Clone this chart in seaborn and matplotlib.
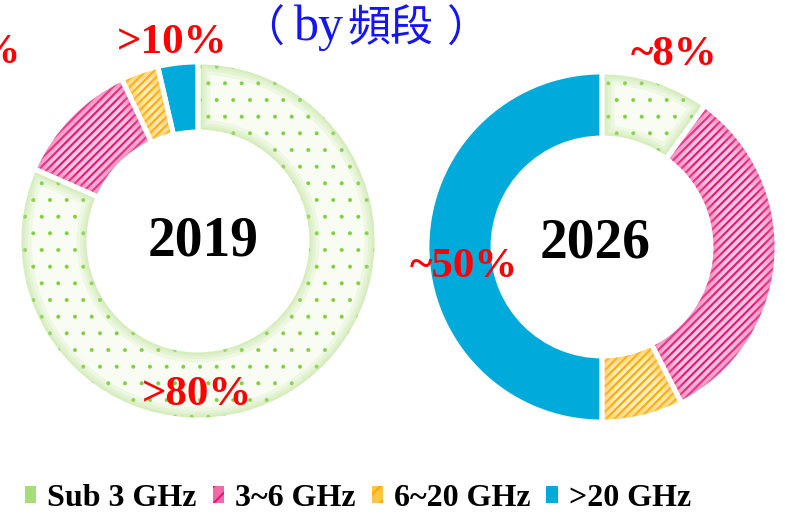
import matplotlib
matplotlib.use("Agg")
import matplotlib.pyplot as plt
from matplotlib.patches import Patch, PathPatch
import seaborn as sns

sns.set_theme(style="white")
plt.rcParams["hatch.linewidth"] = 1.5
plt.rcParams["text.color"] = "black"

# ---- data ----
bands = ["Sub 3 GHz", "3~6 GHz", "6~20 GHz", ">20 GHz"]
share_2019 = [81.6, 11.4, 3.4, 3.6]
share_2026 = [10.0, 32.5, 7.5, 50.0]
years = ["2019", "2026"]
title_parts = ["（", "by", "頻段", "）"]
labels_2019 = [">80%", ">10%", "~10%"]
labels_2026 = ["~8%", "~50%"]

face_colors = ["#F8FCF3", "#FAC6DE", "#FFEDBB", "#00AADB"]
hatch_colors = ["#7ED03A", "#E6157A", "#FFA800", "#00AADB"]
glow_colors = ["#B5E08A", "#F06AA8", "#FFC44A", "#00AADB"]
hatches = [".", "////", "////", None]

W, H = 785, 516
fig = plt.figure(figsize=(W / 100, H / 100), dpi=100)
ax = fig.add_axes([0, 0, 1, 1])


def donut(values, cx, cy, r, w):
    wedges, _ = ax.pie(values, startangle=90, counterclock=False,
                       center=(cx, cy), radius=r,
                       wedgeprops=dict(width=w, linewidth=0), frame=True)
    for wd, fc, hc, ht in zip(wedges, face_colors, hatch_colors, hatches):
        wd.set_facecolor(fc)
        wd.set_edgecolor(hc)
        if ht:
            wd.set_hatch(ht)
            if ht == "." and hasattr(wd, "set_hatch_linewidth"):
                wd.set_hatch_linewidth(0.4)
    # soft inner glow along the segment edges (clipped inside each wedge)
    for wd, c in zip(wedges, glow_colors):
        path = wd.get_path()
        for lw in (18, 13, 9, 6):
            g = PathPatch(path, transform=wd.get_transform(), facecolor="none",
                          edgecolor=c, linewidth=lw, alpha=0.16,
                          zorder=wd.get_zorder())
            ax.add_patch(g)
            g.set_clip_path(path, wd.get_transform())
    # white separators
    ax.pie(values, startangle=90, counterclock=False,
           center=(cx, cy), radius=r,
           wedgeprops=dict(width=w, linewidth=3.5, edgecolor="white",
                           facecolor="none"), frame=True)


donut(share_2019, 198, H - 241, 179, 70)
donut(share_2026, 602, H - 247, 175, 66)

ax.set_xlim(0, W)
ax.set_ylim(0, H)
ax.set_aspect("equal")
ax.axis("off")

serif = ["Liberation Serif", "DejaVu Serif"]
ax.text(203, H - 242, years[0], fontsize=40, fontweight="bold", color="black",
        family=serif, ha="center", va="center")
ax.text(595, H - 243, years[1], fontsize=40, fontweight="bold", color="black",
        family=serif, ha="center", va="center")

red = "#FF0000"
lab_kw = dict(fontsize=31, fontweight="bold", color=red, family=serif,
              va="baseline")
ax.text(197, H - 405, labels_2019[0], ha="center", **lab_kw)
ax.text(172, H - 53, labels_2019[1], ha="center", **lab_kw)
ax.text(21, H - 63, labels_2019[2], ha="right", **lab_kw)
ax.text(674, H - 65, labels_2026[0], ha="center", **lab_kw)
ax.text(464, H - 277, labels_2026[1], ha="center", **lab_kw)

blue = "#1414F5"
cjk = ["Noto Sans CJK TC", "DejaVu Sans"]
ax.text(263, H - 42, title_parts[0], fontsize=31, color=blue, family=cjk,
        ha="center", va="baseline", fontweight="light")
ax.text(319, H - 40, title_parts[1], fontsize=36, color=blue, family=serif,
        ha="center", va="baseline")
ax.text(390, H - 41, title_parts[2], fontsize=31, color=blue, family=cjk,
        ha="center", va="baseline")
ax.text(468, H - 42, title_parts[3], fontsize=31, color=blue, family=cjk,
        ha="center", va="baseline", fontweight="light")

handles = [Patch(facecolor=fc, edgecolor=hc, hatch=ht, linewidth=0, label=b)
           for fc, hc, ht, b in zip(["#A8DC78", "#F06AA8", "#FFC44A", "#00AADB"],
                                    hatch_colors, [None, "//", "//", None], bands)]
leg = ax.legend(handles=handles, loc="center", bbox_to_anchor=(358 / W, 18 / H),
                ncol=4, frameon=False, handlelength=0.35, handleheight=0.45,
                handletextpad=0.35, columnspacing=0.5, labelcolor="black",
                prop=dict(family=serif, weight="bold", size=23))

fig.savefig("out.png", dpi=100)
